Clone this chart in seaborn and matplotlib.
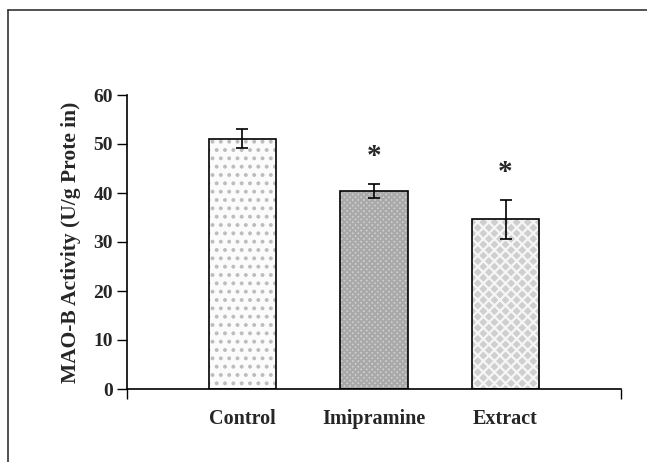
import matplotlib
matplotlib.use("Agg")
import matplotlib.pyplot as plt
import seaborn as sns
import pandas as pd
from matplotlib.lines import Line2D

categories = ["Control", "Imipramine", "Extract"]
values = [51.1, 40.4, 34.6]
errors = [1.9, 1.5, 3.9]
significant = [False, True, True]
yticks = [0, 10, 20, 30, 40, 50, 60]

sns.set_theme(style="white")
plt.rcParams["font.family"] = ["Liberation Serif", "DejaVu Serif"]
plt.rcParams["font.weight"] = "bold"
plt.rcParams["hatch.linewidth"] = 1.6

df = pd.DataFrame({"group": categories, "value": values})

fig = plt.figure(figsize=(6.47, 4.62), dpi=100)
ax = fig.add_axes([127 / 647, 1 - 389 / 462, 494 / 647, 294 / 462])

sns.barplot(data=df, x="group", y="value", ax=ax, width=0.51,
            color="white", edgecolor="black", linewidth=1.2, errorbar=None)

faces = ["#fbfbfb", "#d2d2d2", "#cfcfcf"]
hatch_cols = ["#bdbdbd", "#a9a9a9", "#f6f6f6"]
hatches = ["..", "xxxxxx", "xxx"]
for patch, fc, hc, h in zip(ax.patches, faces, hatch_cols, hatches):
    patch.set_facecolor(fc)
    patch.set_edgecolor("black")
    patch.set_hatch(h)
    patch._hatch_color = matplotlib.colors.to_rgba(hc)

xs = list(range(len(categories)))
ax.errorbar(xs, values, yerr=errors, fmt="none", ecolor="black",
            elinewidth=1.2, capsize=4, capthick=1.2, zorder=5)
for x, v, e, s in zip(xs, values, errors, significant):
    if s:
        ax.text(x, v + e + 5.6, "*", ha="center", va="center",
                fontsize=21, fontweight="bold")

ax.set_xlim(-0.878, 2.878)
ax.set_ylim(0, 60)
ax.set_yticks(yticks)
ax.set_yticklabels([str(t) for t in yticks], fontsize=14, fontweight="bold")
ax.set_xticks(xs)
ax.set_xticklabels(categories, fontsize=14.5, fontweight="bold")
for lbl in ax.get_xticklabels():
    lbl.set_verticalalignment("baseline")
ax.tick_params(axis="x", length=0, pad=25)
ax.tick_params(axis="y", direction="out", length=7, width=1, color="black", left=True, pad=3)
ax.set_xticks([-0.878, 2.878], minor=True)
ax.tick_params(axis="x", which="minor", direction="out", length=7, width=1, color="black", bottom=True)
ax.set_xlabel("")
ax.set_ylabel("MAO-B Activity (U/g Prote in)", fontsize=15.5, fontweight="bold", labelpad=9)

for side in ["top", "right"]:
    ax.spines[side].set_visible(False)
for side in ["left", "bottom"]:
    ax.spines[side].set_visible(True)
    ax.spines[side].set_color("black")
    ax.spines[side].set_linewidth(1.2)

# figure frame (left and top lines)
fig.add_artist(Line2D([8 / 647, 8 / 647], [0, 1 - 10 / 462], transform=fig.transFigure,
                      color="#333333", linewidth=1.2))
fig.add_artist(Line2D([8 / 647, 1], [1 - 10 / 462, 1 - 10 / 462], transform=fig.transFigure,
                      color="#333333", linewidth=1.2))

fig.savefig("out.png", dpi=100)
